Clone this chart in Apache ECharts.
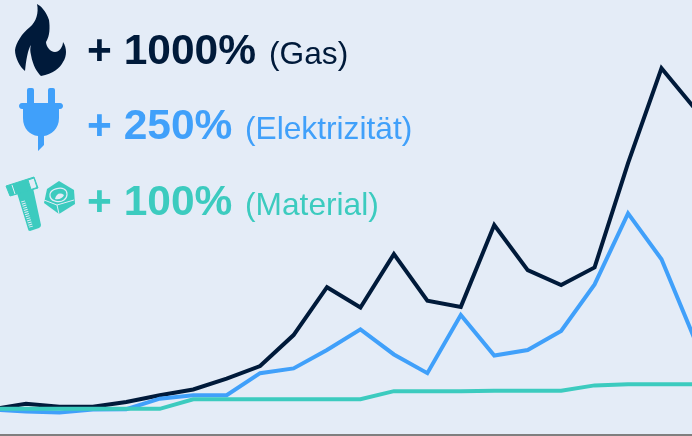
<!DOCTYPE html>
<html>
<head>
<meta charset="utf-8">
<style>html,body{margin:0;background:#e4ecf7}#c{width:692px;height:436px}</style>
<script src="https://cdn.jsdelivr.net/npm/echarts@6/dist/echarts.min.js"></script>
</head>
<body>
<div id="c"></div>
<script>
// Preisanstieg in % (Zeitachse hat keine Beschriftung)
const gas = [-4,12,3,3,17,37,54,86,123,214,355,295,452,315,297,538,405,361,413,720,999,880];
const strom = [-5,-11,-14,-5,-4,27,37,37,102,116,170,231,157,102,273,154,170,226,363,572,437,200];
const material = [-3,-3,-3,-3,-3,-3,25,25,25,25,25,25,49,49,49,50,50,50,66,69,69,69];

const NAVY = "#001a3a", BLUE = "#40a0fa", TEAL = "#3ccbbf", BG = "#e4ecf7";
const font = "'Liberation Sans', Arial, sans-serif";

const headline = [
  { pct: "+ 1000%", name: "(Gas)", color: NAVY, base: 63, nameX: 269 },
  { pct: "+ 250%", name: "(Elektrizität)", color: BLUE, base: 138, nameX: 245 },
  { pct: "+ 100%", name: "(Material)", color: TEAL, base: 214, nameX: 245 },
];

function line(name, data, color) {
  // x = Index der Periode; die Kurven laufen links und rechts aus dem Bild
  return { name, type: "line", data: data.map((v, i) => [i, v]), symbol: "none", lineStyle: { color, width: 4, join: "miter" } };
}

const texts = [];
headline.forEach((h) => {
  texts.push({ type: "text", left: 87, top: h.base - 32, style: { text: h.pct, fill: h.color, font: `bold 42.5px ${font}` } });
  texts.push({ type: "text", left: h.nameX, top: h.base - 24, style: { text: h.name, fill: h.color, font: `31.7px ${font}` } });
});

// graphic kennt kein type:"path", darum eigene Shapes registrieren
let iconCount = 0;
function icon(pathData, style) {
  const type = "icon" + iconCount++;
  echarts.graphic.registerShape(type, echarts.graphic.extendPath(pathData, {}));
  return { type, style };
}

// Icons: Flamme, Stecker, Schraube + Mutter
const icons = [
  icon("M37 4C41 6 46 11 49 20C50 27 50 36 46 42C46 46 50 52 55 52C59 52 63 47 63 42C67 48 67 56 63 62C60 68 53 74 41 76C37 72 33 66 31 55C30 51 30 48 31 45C28 49 26 60 25 71C20 67 15 58 15 50C16 43 22 33 30 27C36 22 39 13 37 4Z", { fill: NAVY }),
  icon("M27 90Q27 88 29 88H32Q34 88 34 90V103H48V90Q48 88 50 88H53Q55 88 55 90V103H60C64 103 64 109 60 109H59V118C59 129 51 135 44 136V145L38 151V136C30 135 23 129 23 118V109H22C18 109 18 103 22 103H27Z", { fill: BLUE }),
  // Schraube
  icon("M17 193L33 188L41 225Q41 227 39 228L30 231Q28 231 28 229Z", { fill: TEAL }),
  icon("M6 186L34 177L38 188L10 196Z", { fill: TEAL, stroke: TEAL, lineWidth: 1 }),
  icon("M28 180L34 178L37 187.5L31 189.5Z", { fill: BG, stroke: TEAL, lineWidth: 1 }),
  icon("M12 185L15 194", { stroke: BG, lineWidth: 1, fill: null }),
  icon("M23 201L31 227", { stroke: BG, lineWidth: 4, lineDash: [1, 1.2], fill: null }),
  // Mutter
  icon("M47 189L59 181L74 190L75 204L59 214L44 203Z", { fill: TEAL }),
  icon("M44 200L57 205L59 214M57 205L74 200", { stroke: BG, lineWidth: 1, fill: null }),
  icon("M50 194C51 189 60 187 64 189C68 191 68 197 64 200C60 203 49 202 50 194Z", { fill: TEAL, stroke: BG, lineWidth: 1.2 }),
  icon("M55 199C56 194 60 192 64 195C63 198 59 200 55 199Z", { fill: BG }),
];

const chart = echarts.init(document.getElementById("c"), null, { renderer: "canvas" });
chart.setOption({
  animation: false,
  backgroundColor: BG,
  grid: { left: 0, right: 0, top: 0, bottom: 1 },
  xAxis: {
    type: "value",
    min: 0.224,
    max: 20.912,
    splitLine: { show: false },
    axisLine: { show: true, onZero: false, lineStyle: { color: "#7f7f7f", width: 2 } },
    axisTick: { show: false },
    axisLabel: { show: false },
  },
  yAxis: {
    type: "value",
    min: -80,
    max: 1200,
    show: false,
    splitLine: { show: false },
  },
  series: [line("Gas", gas, NAVY), line("Elektrizität", strom, BLUE), line("Material", material, TEAL)],
  graphic: texts.concat(icons),
});
</script>
</body>
</html>
